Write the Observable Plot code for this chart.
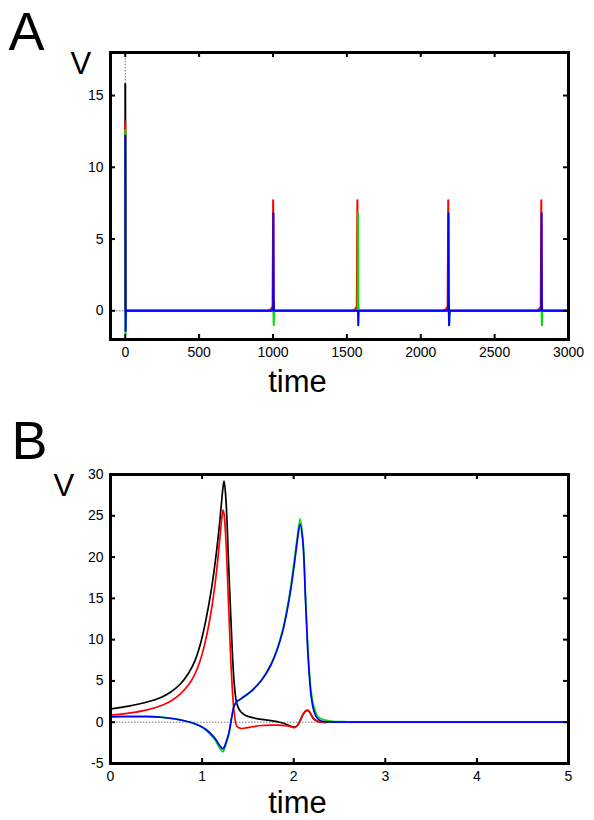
<!DOCTYPE html>
<html>
<head>
<meta charset="utf-8">
<script src="https://cdn.jsdelivr.net/npm/d3@7"></script>
<script src="https://cdn.jsdelivr.net/npm/@observablehq/plot@0.6"></script>
<style>
html, body { margin: 0; padding: 0; background: #fff; }
#chart { position: relative; width: 594px; height: 820px; overflow: hidden; }
#chart svg { position: absolute; left: 0; display: block; background: transparent; }
</style>
</head>
<body>
<div id="chart"></div>
<script>
// ---------- series styling ----------
const seriesNames = ["black", "red", "green", "blue"];
const seriesColors = ["#000000", "#ff0000", "#00dd00", "#0000ff"];

// ---------- Panel A data (long time course) ----------
const timeA = [0, 2, 4, 30,
  960, 985, 997, 1001, 1003, 1005, 1007, 1010, 1014, 1040,
  1530, 1555, 1567, 1571, 1573, 1575, 1577, 1580, 1584, 1610,
  2145, 2170, 2182, 2186, 2188, 2190, 2192, 2195, 2199, 2225,
  2775, 2800, 2812, 2816, 2818, 2820, 2822, 2825, 2829, 2855,
  3000];
const blackA = [15.8, 0, 0, 0,
  0, 0, 0, 0, 0, 0.6, 0, 0, 0, 0,
  0, 0, 0, 0, 0, 0.6, 0, 0, 0, 0,
  0, 0, 0, 0, 0, 0.6, 0, 0, 0, 0,
  0, 0, 0, 0, 0, 0.6, 0, 0, 0, 0,
  0];
const redA = [13.2, 0, 0, 0,
  0, 0.1, 0.3, 7.7, 0.2, 0, 0, 0, 0, 0,
  0, 0.1, 0.3, 7.7, 0.2, 0, 0, 0, 0, 0,
  0, 0.1, 0.3, 7.7, 0.2, 0, 0, 0, 0, 0,
  0, 0.1, 0.3, 7.7, 0.2, 0, 0, 0, 0, 0,
  0];
const greenA = [12.6, -1.6, 0, 0,
  0, 0, 0, 0, 0, -1.0, 0, 0, 0, 0,
  0, 0, 0, 0, 0, 6.8, 0, 0, 0, 0,
  0, 0, 0, 0, 0, 0, -1.0, 0, 0, 0,
  0, 0, 0, 0, 0, -1.0, 0, 0, 0, 0,
  0];
const blueA = [12.2, -1.4, 0, 0,
  0, 0, 0.05, 0.1, 6.8, 0, 0, 0, 0, 0,
  0, 0, 0, 0, 0, 0, -1.0, 0, 0, 0,
  0, 0, 0.05, 0.1, 6.8, 0, -1.0, 0, 0, 0,
  0, 0, 0.05, 0.1, 6.8, 0, 0, 0, 0, 0,
  0];
const xTicksA = [0, 500, 1000, 1500, 2000, 2500, 3000];
const yTicksA = [0, 5, 10, 15];

// ---------- Panel B data (zoom on first spikes) ----------
const timeB = [0, 0.2, 0.4, 0.55, 0.65, 0.76, 0.85, 0.92, 0.98, 1.04, 1.1, 1.15, 1.19, 1.22, 1.23, 1.24, 1.26, 1.29, 1.32, 1.35, 1.38, 1.42, 1.47, 1.55, 1.65, 1.75, 1.82, 1.88, 1.93, 1.97, 2.01, 2.04, 2.07, 2.10, 2.13, 2.16, 2.19, 2.22, 2.26, 2.31, 2.4, 2.6, 3, 4, 5];
const blackB = [1.6, 1.95, 2.45, 3.0, 3.6, 4.6, 5.9, 7.4, 9.4, 12.3, 16.0, 20.0, 24.0, 27.6, 28.6, 29.2, 27.0, 19.0, 11.0, 4.8, 2.2, 1.3, 0.85, 0.55, 0.35, 0.2, 0.08, -0.1, -0.3, -0.5, -0.6, -0.4, 0.2, 0.9, 1.35, 1.4, 0.9, 0.4, 0.1, 0, 0, 0, 0, 0, 0];
const redB = [0.85, 1.1, 1.5, 2.0, 2.5, 3.4, 4.5, 5.8, 7.5, 10.0, 13.5, 17.5, 21.8, 25.2, 25.7, 25.2, 22.0, 14.0, 6.0, 1.2, -0.5, -0.75, -0.7, -0.55, -0.4, -0.35, -0.35, -0.38, -0.45, -0.55, -0.65, -0.4, 0.2, 0.9, 1.35, 1.45, 0.9, 0.4, 0.1, 0, 0, 0, 0, 0, 0];
const greenB = [0.7, 0.72, 0.7, 0.62, 0.5, 0.3, 0.05, -0.2, -0.5, -0.95, -1.6, -2.3, -3.1, -3.55, -3.55, -3.35, -2.7, -1.6, 0.3, 2.0, 2.5, 2.8, 3.2, 3.9, 5.1, 7.0, 8.9, 11.2, 13.9, 16.6, 19.9, 22.5, 24.6, 22.3, 15.0, 8.0, 3.8, 1.9, 0.75, 0.35, 0.15, 0.05, 0, 0, 0];
const blueB = [0.65, 0.68, 0.67, 0.6, 0.48, 0.28, 0.05, -0.18, -0.45, -0.85, -1.45, -2.1, -2.8, -3.2, -3.2, -3.05, -2.45, -1.4, 0.4, 2.0, 2.5, 2.8, 3.2, 3.9, 5.1, 6.9, 8.8, 11.0, 13.6, 16.2, 19.4, 22.0, 24.0, 21.8, 14.5, 7.4, 3.2, 1.4, 0.45, 0.12, 0.03, 0, 0, 0, 0];
const xTicksB = [0, 1, 2, 3, 4, 5];
const yTicksB = [-5, 0, 5, 10, 15, 20, 25, 30];

// ---------- texts ----------
const panelLetters = ["A", "B"];
const yLabel = "V";
const xLabel = "time";

// ---------- drawing ----------
const W = 594;
const fontFamily = '"Liberation Sans", Arial, Helvetica, sans-serif';
const tidy = (time, values) => time.map((t, i) => ({t, v: values[i]}));

function panel(cfg) {
  const pw = W - cfg.ml - cfg.mr;
  const ph = cfg.height - cfg.mt - cfg.mb;
  const marks = [
    Plot.ruleY([0], {stroke: "#777", strokeWidth: 1, strokeDasharray: "1.5,1.5"}),
    ...(cfg.vRule ? [Plot.ruleX([0], {stroke: "#777", strokeWidth: 1, strokeDasharray: "1.5,1.5"})] : []),
    ...cfg.series.map((vals, i) => Plot.line(tidy(cfg.time, vals), {
      x: "t", y: "v", stroke: seriesColors[i], strokeWidth: cfg.sw, curve: cfg.curve
    })),
    Plot.tickY(cfg.yTicks, {y: d => d, insetRight: pw - 5, strokeWidth: 2, stroke: "black"}),
    Plot.tickY(cfg.yTicks, {y: d => d, insetLeft: pw - 5, strokeWidth: 2, stroke: "black"}),
    Plot.tickX(cfg.xTicks, {x: d => d, insetTop: ph - 5, strokeWidth: 2, stroke: "black"}),
    Plot.tickX(cfg.xTicks, {x: d => d, insetBottom: ph - 5, strokeWidth: 2, stroke: "black"}),
    Plot.frame({stroke: "black", strokeWidth: 3}),
    Plot.axisX({ticks: cfg.xTicks, tickSize: 0, tickPadding: 8, label: null, fontSize: 14, tickFormat: d => String(d)}),
    Plot.axisY({ticks: cfg.yTicks, tickSize: 0, tickPadding: 7, label: null, fontSize: 14, tickFormat: d => String(d)}),
    Plot.text([cfg.letter], {text: d => d, frameAnchor: "top-left", dx: cfg.letterDx, dy: cfg.letterDy,
      textAnchor: "start", lineAnchor: "bottom", fontSize: 54}),
    Plot.text([yLabel], {text: d => d, frameAnchor: "top-left", dx: cfg.vDx, dy: cfg.vDy,
      textAnchor: "start", lineAnchor: "bottom", fontSize: 31}),
    Plot.text([xLabel], {text: d => d, frameAnchor: "bottom-left", dx: 297 - cfg.ml, dy: cfg.timeDy,
      textAnchor: "middle", lineAnchor: "bottom", fontSize: 31})
  ];
  const svg = Plot.plot({
    width: W, height: cfg.height,
    marginTop: cfg.mt, marginBottom: cfg.mb, marginLeft: cfg.ml, marginRight: cfg.mr,
    x: {domain: cfg.xDomain},
    y: {domain: cfg.yDomain},
    style: {fontFamily, fontSize: "14px", color: "black", background: "transparent", overflow: "visible"},
    marks
  });
  svg.style.top = cfg.top + "px";
  return svg;
}

const chart = document.getElementById("chart");
chart.appendChild(panel({
  top: 0, height: 410, mt: 52, mb: 71, ml: 110, mr: 26,
  time: timeA, series: [blackA, redA, greenA, blueA],
  xDomain: [-100, 3000], yDomain: [-2, 18], xTicks: xTicksA, yTicks: yTicksA,
  sw: 2, curve: "linear", vRule: true,
  letter: panelLetters[0], letterDx: -102, letterDy: -3,
  vDx: -40, vDy: 21, timeDy: 52
}));
chart.appendChild(panel({
  top: 410, height: 410, mt: 64, mb: 57, ml: 110, mr: 26,
  time: timeB, series: [blackB, redB, greenB, blueB],
  xDomain: [0, 5], yDomain: [-5, 30], xTicks: xTicksB, yTicks: yTicksB,
  sw: 1.7, curve: "catmull-rom", vRule: false,
  letter: panelLetters[1], letterDx: -99, letterDy: -16,
  vDx: -57, vDy: 21, timeDy: 49
}));
</script>
</body>
</html>
